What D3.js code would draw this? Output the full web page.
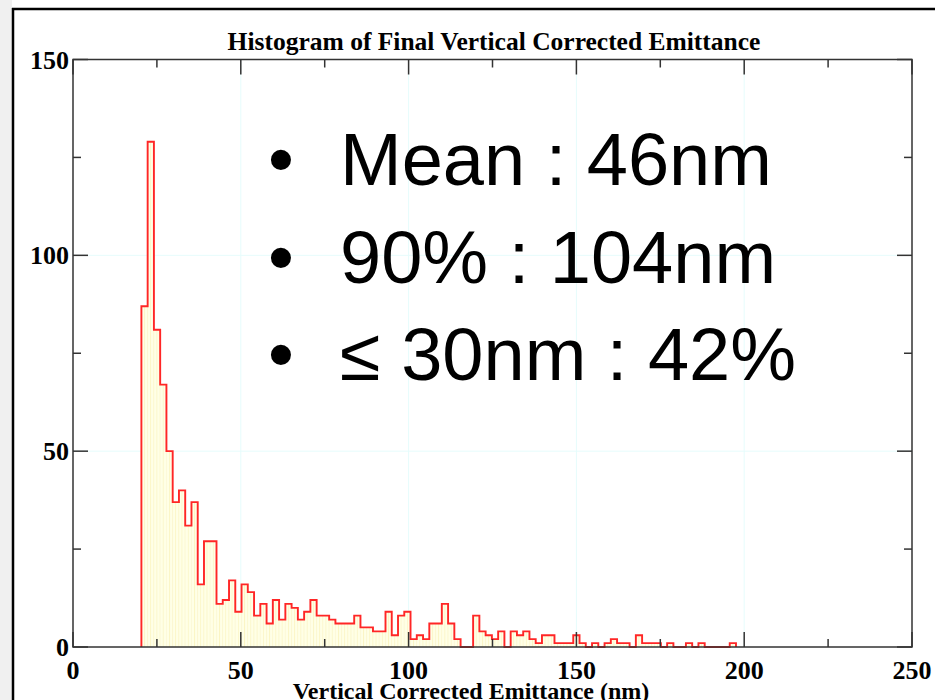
<!DOCTYPE html>
<html>
<head>
  <title>Histogram</title>
  <script src="https://cdn.jsdelivr.net/npm/d3@7"></script>
  <style>
    body { margin: 0; background: #fff; }
  </style>
</head>
<body>
  <svg width="935" height="700" id="mainsvg"></svg>
  <script>
    // histogram counts, one per bin
    const counts = [87, 129, 81, 67, 50, 37, 40, 31, 37, 16,
      27, 27, 11, 12, 17, 9, 16, 14, 8, 11,
      6, 12, 7, 11, 10, 7, 9, 12, 8, 8,
      7, 6, 6, 6, 8, 5, 5, 4, 4, 9,
      3, 8, 9, 2, 3, 2, 6, 6, 11, 6,
      2, 0, 0, 8, 4, 3, 2, 4, 0, 4,
      3, 4, 2, 1, 3, 3, 1, 1, 1, 3,
      1, 0, 1, 0, 1, 2, 1, 1, 0, 3,
      1, 1, 1, 0, 1, 0, 0, 1, 0, 1,
      0, 0, 0, 0, 1];
    const binStart = 20.38;   // nm
    const binWidth = 1.865;   // nm
    const xTicks = [0, 50, 100, 150, 200, 250];
    const yTicks = [0, 50, 100, 150];
    const bullets = ['Mean : 46nm', '90% : 104nm', '\u2264 30nm : 42%'];

    const svg = d3.select('#mainsvg');
    const margin = { top: 59.5, right: 23, bottom: 53, left: 73 };
    const width = +svg.attr('width');
    const height = +svg.attr('height');

    const xScale = d3.scaleLinear().domain([0, 250]).range([margin.left, width - margin.right]);
    const yScale = d3.scaleLinear().domain([0, 150]).range([height - margin.bottom, margin.top]);

    // slide frame
    svg.append('rect').attr('x', 0).attr('y', 0).attr('width', 12).attr('height', height).attr('fill', '#f0f0f0');
    svg.append('line').attr('x1', 13).attr('x2', 13).attr('y1', 8).attr('y2', height)
      .attr('stroke', '#000').attr('stroke-width', 2.5);
    svg.append('line').attr('x1', 12).attr('x2', width).attr('y1', 9).attr('y2', 9)
      .attr('stroke', '#000').attr('stroke-width', 2.5);

    // faint grid
    const grid = svg.append('g');
    grid.selectAll('.gx').data([50, 100, 150, 200]).join('line')
      .attr('x1', d => xScale(d)).attr('x2', d => xScale(d))
      .attr('y1', yScale(150)).attr('y2', yScale(0))
      .attr('stroke', '#e6fcfc').attr('stroke-width', 1);
    grid.selectAll('.gy').data([50, 100]).join('line')
      .attr('y1', d => yScale(d)).attr('y2', d => yScale(d))
      .attr('x1', xScale(0)).attr('x2', xScale(250))
      .attr('stroke', '#e6fcfc').attr('stroke-width', 1);

    // hatch-like fill
    const defs = svg.append('defs');
    const pat = defs.append('pattern').attr('id', 'fillpat').attr('patternUnits', 'userSpaceOnUse')
      .attr('width', 3.13).attr('height', 10);
    pat.append('rect').attr('width', 3.13).attr('height', 10).attr('fill', '#ffffe6');
    pat.append('rect').attr('width', 0.8).attr('height', 10).attr('fill', '#fbf5c4');

    const bins = counts.map((c, i) => ({ x0: binStart + i * binWidth, x1: binStart + (i + 1) * binWidth, c }));

    svg.append('g').selectAll('rect').data(bins.filter(d => d.c > 0)).join('rect')
      .attr('x', d => xScale(d.x0))
      .attr('width', d => xScale(d.x1) - xScale(d.x0))
      .attr('y', d => yScale(d.c))
      .attr('height', d => yScale(0) - yScale(d.c))
      .attr('fill', 'url(#fillpat)');

    // step outline
    const pts = [[bins[0].x0, 0]];
    bins.forEach(d => { pts.push([d.x0, d.c]); pts.push([d.x1, d.c]); });
    pts.push([bins[bins.length - 1].x1, 0]);
    svg.append('path')
      .attr('d', d3.line().x(d => xScale(d[0])).y(d => yScale(d[1]))(pts))
      .attr('fill', 'none').attr('stroke', '#ff2626').attr('stroke-width', 1.9)
      .attr('stroke-linejoin', 'miter');

    // axes box with inward ticks on all sides
    const axisColor = '#333';
    const tickG = svg.append('g').attr('stroke', axisColor).attr('stroke-width', 1.5);
    const xt = d3.range(0, 251, 25);
    const yt = d3.range(0, 151, 25);
    const tl = d => (d % 50 === 0 ? 15 : 8);
    tickG.selectAll('.xb').data(xt).join('line')
      .attr('x1', d => xScale(d)).attr('x2', d => xScale(d))
      .attr('y1', yScale(0)).attr('y2', d => yScale(0) - tl(d));
    tickG.selectAll('.xt').data(xt).join('line')
      .attr('x1', d => xScale(d)).attr('x2', d => xScale(d))
      .attr('y1', yScale(150)).attr('y2', d => yScale(150) + tl(d));
    tickG.selectAll('.yl').data(yt).join('line')
      .attr('y1', d => yScale(d)).attr('y2', d => yScale(d))
      .attr('x1', xScale(0)).attr('x2', d => xScale(0) + tl(d));
    tickG.selectAll('.yr').data(yt).join('line')
      .attr('y1', d => yScale(d)).attr('y2', d => yScale(d))
      .attr('x1', xScale(250)).attr('x2', d => xScale(250) - tl(d));
    svg.append('rect')
      .attr('x', xScale(0)).attr('y', yScale(150))
      .attr('width', xScale(250) - xScale(0)).attr('height', yScale(0) - yScale(150))
      .attr('fill', 'none').attr('stroke', axisColor).attr('stroke-width', 1.5);

    // tick labels
    const serif = '"Liberation Serif", "Times New Roman", serif';
    svg.append('g').selectAll('text').data(xTicks).join('text')
      .attr('x', d => xScale(d)).attr('y', yScale(0) + 32)
      .attr('text-anchor', 'middle')
      .attr('font-family', serif).attr('font-weight', 'bold').attr('font-size', 26)
      .text(d => d);
    svg.append('g').selectAll('text').data(yTicks).join('text')
      .attr('x', xScale(0) - 4).attr('y', d => yScale(d) + 9)
      .attr('text-anchor', 'end')
      .attr('font-family', serif).attr('font-weight', 'bold').attr('font-size', 26)
      .text(d => d);

    svg.append('text')
      .attr('x', 494).attr('y', 50).attr('text-anchor', 'middle')
      .attr('font-family', serif).attr('font-weight', 'bold').attr('font-size', 25.5)
      .text('Histogram of Final Vertical Corrected Emittance');
    svg.append('text')
      .attr('x', 471).attr('y', 699).attr('text-anchor', 'middle')
      .attr('font-family', serif).attr('font-weight', 'bold').attr('font-size', 24)
      .text('Vertical Corrected Emittance (nm)');

    // bullet text
    const sans = '"Liberation Sans", Arial, sans-serif';
    const bl = svg.append('g').attr('font-family', sans).attr('font-size', 74).attr('fill', '#000');
    bullets.forEach((t, i) => {
      bl.append('text').attr('x', 268).attr('y', 185 + i * 97.5).text('\u2022');
      bl.append('text').attr('x', 340).attr('y', 185 + i * 97.5).text(t);
    });
  </script>
</body>
</html>
